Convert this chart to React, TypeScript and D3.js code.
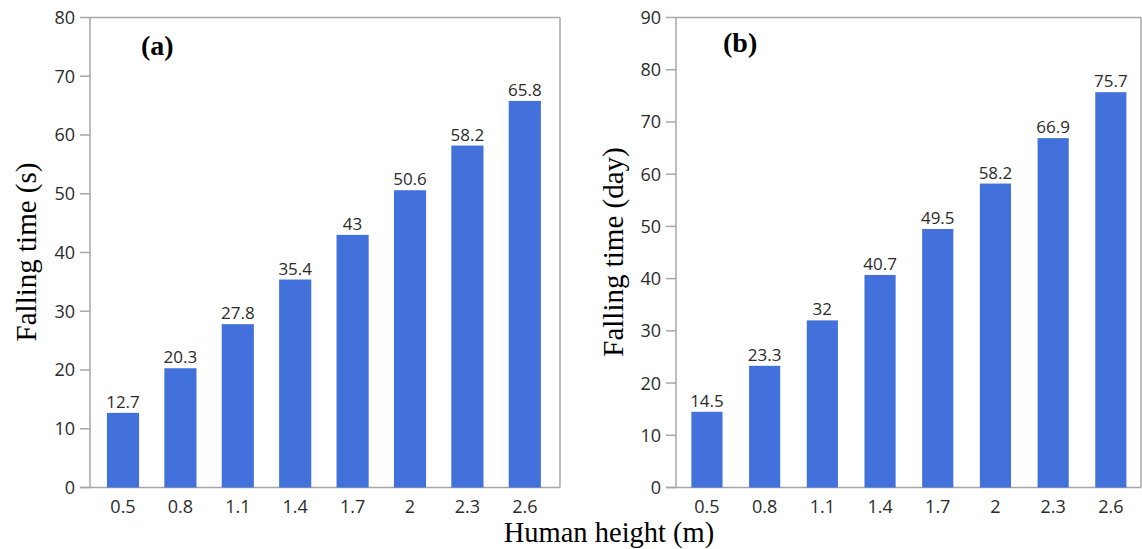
import React from "react";
import * as d3 from "d3";

const heights = ["0.5", "0.8", "1.1", "1.4", "1.7", "2", "2.3", "2.6"];
const timeSeconds = [12.7, 20.3, 27.8, 35.4, 43, 50.6, 58.2, 65.8];
const timeDays = [14.5, 23.3, 32, 40.7, 49.5, 58.2, 66.9, 75.7];
const ticksA = [0, 10, 20, 30, 40, 50, 60, 70, 80];
const ticksB = [0, 10, 20, 30, 40, 50, 60, 70, 80, 90];

const W = 1142;
const H = 549;
const BAR = "#4371dc";
const AXIS = "#a6a6a6";
const TXT = "#2b2b2b";
const SANS = "'Open Sans', 'Noto Sans', sans-serif";
const SERIF = "'Liberation Serif', 'Times New Roman', serif";

type PanelProps = {
  values: number[];
  ticks: number[];
  max: number;
  left: number;
  right: number;
  bandLeft: number;
  bandRight: number;
  pad: number;
  label: string;
  labelX: number;
  labelY: number;
  yTitle: string;
  yTitleX: number;
};

function Panel(p: PanelProps) {
  const top = 17.5;
  const bottom = 487.5;
  const y = d3.scaleLinear().domain([0, p.max]).range([bottom, top]);
  const x = d3
    .scaleBand<string>()
    .domain(heights)
    .range([p.bandLeft, p.bandRight])
    .paddingInner(p.pad)
    .paddingOuter(p.pad / 2);
  return (
    <g>
      <line x1={p.left} x2={p.right} y1={top} y2={top} stroke={AXIS} strokeWidth={1.5} />
      <line x1={p.right} x2={p.right} y1={top} y2={bottom} stroke={AXIS} strokeWidth={1.5} />
      <line x1={p.left} x2={p.left} y1={top} y2={bottom} stroke={AXIS} strokeWidth={1.5} />
      <line x1={p.left - 10} x2={p.right} y1={bottom} y2={bottom} stroke={AXIS} strokeWidth={1.5} />
      {p.ticks.map((t) => (
        <g key={t}>
          <line x1={p.left - 10} x2={p.left} y1={y(t)} y2={y(t)} stroke={AXIS} strokeWidth={1.5} />
          <text
            x={p.left - 15}
            y={y(t)}
            dy="0.36em"
            textAnchor="end"
            fontFamily={SANS}
            fontSize={18}
            fill={TXT}
          >
            {t}
          </text>
        </g>
      ))}
      {heights.map((h, i) => (
        <g key={h}>
          <rect
            x={x(h)}
            y={y(p.values[i])}
            width={x.bandwidth()}
            height={bottom - y(p.values[i])}
            fill={BAR}
          />
          <text
            x={(x(h) as number) + x.bandwidth() / 2}
            y={y(p.values[i]) - 5}
            textAnchor="middle"
            fontFamily={SANS}
            fontSize={17}
            fill={TXT}
          >
            {p.values[i]}
          </text>
          <text
            x={(x(h) as number) + x.bandwidth() / 2}
            y={513}
            textAnchor="middle"
            fontFamily={SANS}
            fontSize={18}
            fill={TXT}
          >
            {h}
          </text>
        </g>
      ))}
      <text x={p.labelX} y={p.labelY} fontFamily={SERIF} fontWeight="bold" fontSize={28} fill="#000">
        {p.label}
      </text>
      <text
        transform={`translate(${p.yTitleX},${252}) rotate(-90)`}
        textAnchor="middle"
        fontFamily={SERIF}
        fontSize={29}
        fill="#000"
      >
        {p.yTitle}
      </text>
    </g>
  );
}

export default function App() {
  return (
    <svg
      width={W}
      height={H}
      style={{ position: "absolute", left: 0, top: 0, background: "#fff" }}
    >
      <rect width={W} height={H} fill="#fff" />
      <Panel
        values={timeSeconds}
        ticks={ticksA}
        max={80}
        left={90}
        right={560}
        bandLeft={94.3}
        bandRight={553.5}
        pad={0.44}
        label="(a)"
        labelX={141}
        labelY={55}
        yTitle="Falling time (s)"
        yTitleX={36}
      />
      <Panel
        values={timeDays}
        ticks={ticksB}
        max={90}
        left={676}
        right={1141}
        bandLeft={678.1}
        bandRight={1139.7}
        pad={0.46}
        label="(b)"
        labelX={723}
        labelY={52}
        yTitle="Falling time (day)"
        yTitleX={623}
      />
      <text x={609} y={542} textAnchor="middle" fontFamily={SERIF} fontSize={28.5} fill="#000">
        Human height (m)
      </text>
    </svg>
  );
}
